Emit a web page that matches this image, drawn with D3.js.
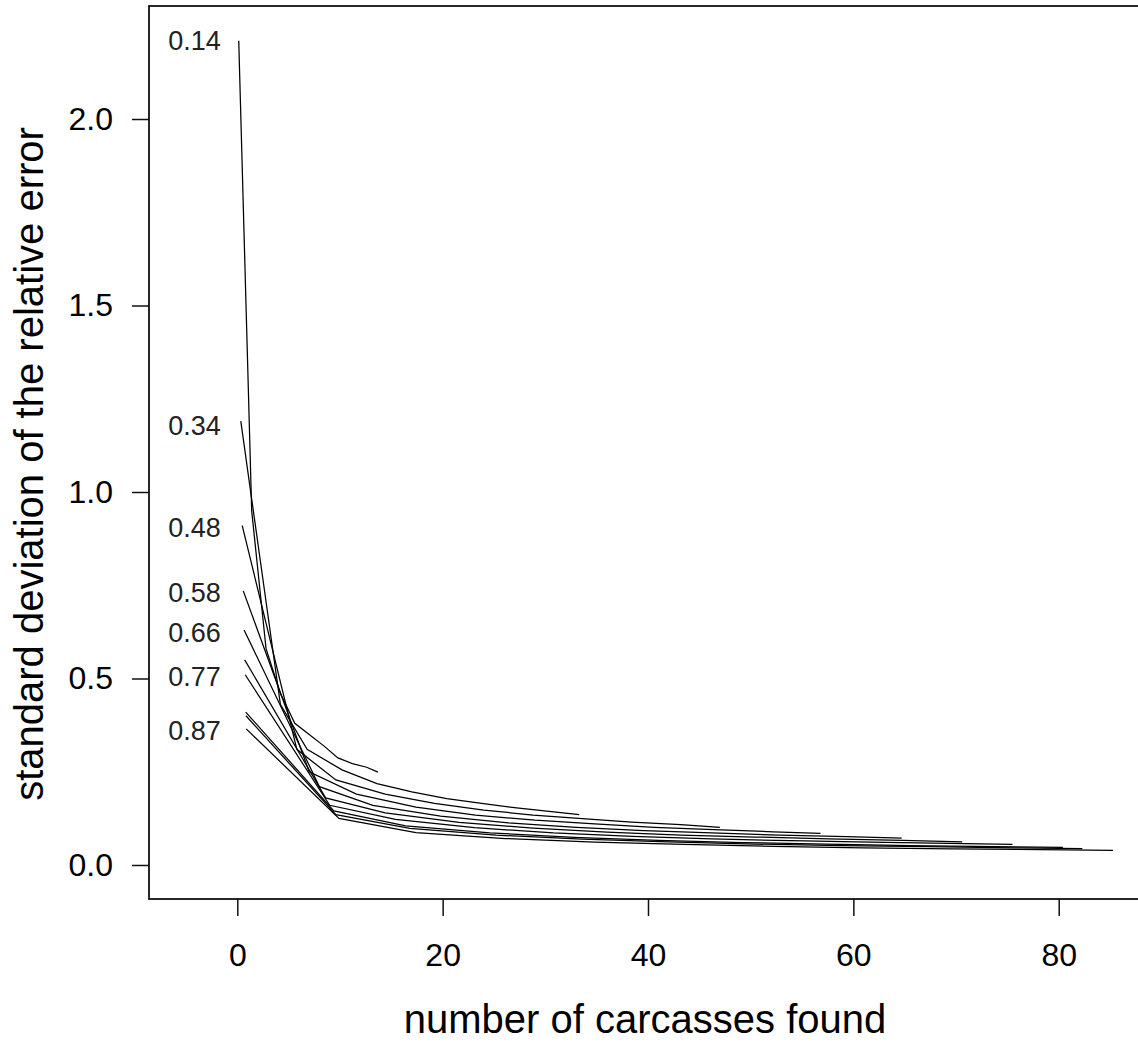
<!DOCTYPE html>
<html>
<head>
<meta charset="utf-8">
<script src="https://cdnjs.cloudflare.com/ajax/libs/d3/7.8.5/d3.min.js"></script>
<style>
  body { margin: 0; background: #fff; }
  text { font-family: "Liberation Sans", Arial, sans-serif; }
</style>
</head>
<body>
<div id="div_graph"></div>
<script>
// curves: number of carcasses found vs sd of relative error, one per detection prob.
var x_014 = [0.14, 1.4, 2.8, 4.2, 5.6, 7.0, 8.4, 9.8, 11.2, 12.6, 13.7];
var y_014 = [2.21, 0.95, 0.58, 0.46, 0.38, 0.35, 0.32, 0.287, 0.272, 0.262, 0.249];
var x_034 = [0.34, 4.2, 6.8, 10.2, 13.6, 17, 20.4, 23.8, 27.2, 30.6, 33.3];
var y_034 = [1.19, 0.43, 0.31, 0.255, 0.218, 0.196, 0.178, 0.165, 0.153, 0.143, 0.135];
var x_048 = [0.48, 5.8, 9.6, 14.4, 19.2, 24, 28.8, 33.6, 38.4, 43.2, 47];
var y_048 = [0.91, 0.31, 0.228, 0.19, 0.165, 0.147, 0.134, 0.124, 0.115, 0.108, 0.101];
var x_058 = [0.58, 7.0, 11.6, 17.4, 23.2, 29, 34.8, 40.6, 46.4, 52.2, 56.8];
var y_058 = [0.735, 0.25, 0.19, 0.155, 0.134, 0.12, 0.11, 0.101, 0.095, 0.089, 0.085];
var x_066 = [0.66, 8.0, 13.2, 19.8, 26.4, 33, 39.6, 46.2, 52.8, 59.4, 64.7];
var y_066 = [0.63, 0.21, 0.16, 0.131, 0.113, 0.101, 0.092, 0.086, 0.08, 0.076, 0.072];
var x_072 = [0.72, 8.6, 14.4, 21.6, 28.8, 36, 43.2, 50.4, 57.6, 64.8, 70.6];
var y_072 = [0.55, 0.18, 0.14, 0.114, 0.099, 0.088, 0.08, 0.075, 0.07, 0.066, 0.062];
var x_077 = [0.77, 9.0, 15.4, 23.1, 30.8, 38.5, 46.2, 53.9, 61.6, 69.3, 75.5];
var y_077 = [0.51, 0.16, 0.122, 0.1, 0.086, 0.077, 0.07, 0.065, 0.061, 0.058, 0.055];
var x_082 = [0.82, 9.4, 16.4, 24.6, 32.8, 41, 49.2, 57.4, 65.6, 73.8, 80.4];
var y_082 = [0.41, 0.145, 0.105, 0.086, 0.074, 0.066, 0.06, 0.056, 0.052, 0.049, 0.047];
var x_084 = [0.84, 9.6, 16.8, 25.2, 33.6, 42, 50.4, 58.8, 67.2, 75.6, 82.3];
var y_084 = [0.40, 0.135, 0.098, 0.08, 0.069, 0.062, 0.056, 0.052, 0.049, 0.046, 0.044];
var x_087 = [0.87, 9.9, 17.4, 26.1, 34.8, 43.5, 52.2, 60.9, 69.6, 78.3, 85.3];
var y_087 = [0.365, 0.125, 0.087, 0.071, 0.061, 0.055, 0.05, 0.046, 0.043, 0.041, 0.039];

// labels written at the start of the curves
var labelText = ["0.14", "0.34", "0.48", "0.58", "0.66", "0.77", "0.87"];
var labelY    = [2.21, 1.18, 0.905, 0.73, 0.625, 0.505, 0.36];

var xTicks = [0, 20, 40, 60, 80];
var yTicks = [0, 0.5, 1.0, 1.5, 2.0];
var xTitle = "number of carcasses found";
var yTitle = "standard deviation of the relative error";

var curves = [
  [x_014, y_014], [x_034, y_034], [x_048, y_048], [x_058, y_058], [x_066, y_066],
  [x_072, y_072], [x_077, y_077], [x_082, y_082], [x_084, y_084], [x_087, y_087]
].map(function(c) {
  return c[0].map(function(d, i) { return {x: d, y: c[1][i]}; });
});

var W = 1138, H = 1044;
var box = {left: 149, top: 6, right: 1147, bottom: 899};

var x = d3.scaleLinear().domain([-8.6, 88.6]).range([box.left, box.right]);
var y = d3.scaleLinear().domain([-0.0912, 2.303]).range([box.bottom, box.top]);

var svg = d3.select('#div_graph')
  .append('svg')
    .attr('width', W)
    .attr('height', H);

var plot = svg.append('g').attr('id', 'g_plot');

var line = d3.line()
  .x(function(d) { return x(d.x); })
  .y(function(d) { return y(d.y); });

plot.selectAll('.curve')
  .data(curves).enter()
  .append('path')
    .attr('class', 'curve')
    .attr('d', line)
    .attr('fill', 'none')
    .attr('stroke', '#000')
    .attr('stroke-width', 1.25);

plot.selectAll('.curve_label')
  .data(labelText).enter()
  .append('text')
    .attr('class', 'curve_label')
    .attr('x', x(-1.6))
    .attr('y', function(d, i) { return y(labelY[i]); })
    .attr('dy', '0.36em')
    .attr('text-anchor', 'end')
    .attr('font-size', 27)
    .attr('fill', '#222')
    .text(function(d) { return d; });

// frame
svg.append('rect')
  .attr('x', box.left)
  .attr('y', box.top)
  .attr('width', box.right - box.left)
  .attr('height', box.bottom - box.top)
  .attr('fill', 'none')
  .attr('stroke', '#111')
  .attr('stroke-width', 1.8);

var xAxis = svg.append('g')
  .attr('transform', 'translate(0,' + box.bottom + ')')
  .call(d3.axisBottom(x).tickValues(xTicks).tickSize(17).tickPadding(27)
    .tickFormat(d3.format('d')));

var yAxis = svg.append('g')
  .attr('transform', 'translate(' + box.left + ',0)')
  .call(d3.axisLeft(y).tickValues(yTicks).tickSize(17).tickPadding(19)
    .tickFormat(d3.format('.1f')));

[xAxis, yAxis].forEach(function(a) {
  a.select('.domain').remove();
  a.selectAll('line').attr('stroke', '#111').attr('stroke-width', 1.5);
  a.selectAll('text')
    .attr('font-size', 32)
    .attr('fill', '#000')
    .style('font-family', '"Liberation Sans", Arial, sans-serif');
});

svg.append('text')
  .attr('x', 645)
  .attr('y', 1033)
  .attr('text-anchor', 'middle')
  .attr('font-size', 40)
  .attr('fill', '#000')
  .text(xTitle);

svg.append('text')
  .attr('transform', 'translate(43,464) rotate(-90)')
  .attr('text-anchor', 'middle')
  .attr('font-size', 40)
  .attr('fill', '#000')
  .text(yTitle);
</script>
</body>
</html>
